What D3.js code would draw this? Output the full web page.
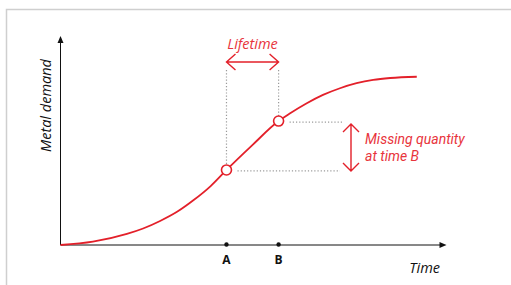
<!DOCTYPE html>
<html><head><meta charset="utf-8">
<script src="https://cdn.jsdelivr.net/npm/d3@7"></script>
<style>html,body{margin:0;padding:0;background:#fff;}svg{display:block;}</style>
</head><body>
<svg id="c" width="511" height="285"></svg>
<script>
// Data (arbitrary units)
const timeVals   = [0, 8.4, 17.2, 21.4, 25.8, 30.3, 34.5, 38.9, 43, 49.7, 56.5, 59.5, 63.8, 68, 72.4, 76.7, 81, 85.4, 92.3];
const demandVals = [0, 1.6, 5.3, 7.9, 11.5, 16, 21.5, 28.2, 35.9, 47.8, 59.3, 63, 67.8, 71.8, 75, 77.4, 79, 79.9, 80.5];
const markerTimes  = [43, 56.5];
const markerLabels = ["A", "B"];
const markerDemand = [35.9, 59.3];
const texts = {y: "Metal demand", x: "Time", life: "Lifetime", miss: ["Missing quantity", "at time B"]};

const red = "#e3202a", redText = "#e8343c", gray = "#9a9a9a";
const svg = d3.select("#c");
const x = d3.scaleLinear().domain([0, 100]).range([60.5, 446.5]);
const y = d3.scaleLinear().domain([0, 100]).range([245, 36]);
const FONT = "Open Sans";
const FONT2 = "Roboto";

// frame
svg.append("path").attr("d", "M6.5,285 V9.5 H511").attr("fill", "none").attr("stroke", "#cfcfcf").attr("stroke-width", 1.5);

// axes
svg.append("line").attr("x1", x(0)).attr("x2", x(100) - 4).attr("y1", y(0)).attr("y2", y(0)).attr("stroke", "#111").attr("stroke-width", 1);
svg.append("path").attr("d", `M${x(100)},${y(0)} l-7,-3 v6 z`).attr("fill", "#111");
svg.append("line").attr("x1", x(0)).attr("x2", x(0)).attr("y1", y(0)).attr("y2", y(100) + 4).attr("stroke", "#111").attr("stroke-width", 1);
svg.append("path").attr("d", `M${x(0)},${y(100)} l-3,7 h6 z`).attr("fill", "#111");

// tick dots and labels
markerTimes.forEach((t, i) => {
  svg.append("circle").attr("cx", x(t)).attr("cy", y(0) - 0.5).attr("r", 2.2).attr("fill", "#111");
  svg.append("text").attr("x", x(t)).attr("y", 263.5).attr("text-anchor", "middle")
    .attr("font-family", FONT).attr("font-weight", "bold").attr("font-size", 12).attr("fill", "#111").text(markerLabels[i]);
});

// axis titles
svg.append("text").attr("x", 440).attr("y", 273).attr("text-anchor", "end")
  .attr("font-family", FONT).attr("font-style", "italic").attr("font-size", 14.5).attr("fill", "#111").text(texts.x);
svg.append("text").attr("transform", "translate(51,105.5) rotate(-90)").attr("text-anchor", "middle")
  .attr("font-family", FONT).attr("font-style", "italic").attr("font-size", 14.5).attr("fill", "#111").text(texts.y);

// dotted guides
const xA = x(markerTimes[0]), xB = x(markerTimes[1]);
const yA = y(markerDemand[0]), yB = y(markerDemand[1]);
const dot = sel => sel.attr("stroke", gray).attr("stroke-width", 1.2).attr("stroke-dasharray", "1.2,2").attr("fill", "none");
dot(svg.append("line").attr("x1", xA).attr("x2", xA).attr("y1", 70).attr("y2", yA - 5));
dot(svg.append("line").attr("x1", xB).attr("x2", xB).attr("y1", 70).attr("y2", yB - 5));
dot(svg.append("line").attr("x1", xB + 11).attr("x2", 343).attr("y1", yB + 1).attr("y2", yB + 1));
dot(svg.append("line").attr("x1", xA + 11).attr("x2", 340).attr("y1", yA + 1).attr("y2", yA + 1));

// curve
const line = d3.line().x(d => x(d[0])).y(d => y(d[1])).curve(d3.curveMonotoneX);
svg.append("path").datum(timeVals.map((t, i) => [t, demandVals[i]])).attr("d", line)
  .attr("fill", "none").attr("stroke", red).attr("stroke-width", 1.8);

// marker circles
markerTimes.forEach((t, i) => {
  svg.append("circle").attr("cx", x(t)).attr("cy", y(markerDemand[i])).attr("r", 5)
    .attr("fill", "#fff").attr("stroke", red).attr("stroke-width", 1.6);
});

// lifetime arrow
const ay = 62;
svg.append("path").attr("d", `M${xA},${ay} H${xB} M${xA + 9},${ay - 8} L${xA},${ay} L${xA + 9},${ay + 8} M${xB - 9},${ay - 8} L${xB},${ay} L${xB - 9},${ay + 8}`)
  .attr("fill", "none").attr("stroke", red).attr("stroke-width", 1.4);
svg.append("text").attr("x", (xA + xB) / 2).attr("y", 48.5).attr("text-anchor", "middle")
  .attr("font-family", FONT).attr("font-style", "italic").attr("font-size", 14.5).attr("fill", redText).text(texts.life);

// missing quantity arrow
const vx = 351, vy1 = yB + 3, vy2 = yA + 1;
svg.append("path").attr("d", `M${vx},${vy1} V${vy2} M${vx - 8},${vy1 + 8} L${vx},${vy1} L${vx + 8},${vy1 + 8} M${vx - 8},${vy2 - 8} L${vx},${vy2} L${vx + 8},${vy2 - 8}`)
  .attr("fill", "none").attr("stroke", red).attr("stroke-width", 1.4);
texts.miss.forEach((s, i) => {
  svg.append("text").attr("x", 365).attr("y", 144 + i * 16.5)
    .attr("font-family", FONT2).attr("font-style", "italic").attr("font-size", 14).attr("fill", redText).text(s);
});
</script>
</body></html>
